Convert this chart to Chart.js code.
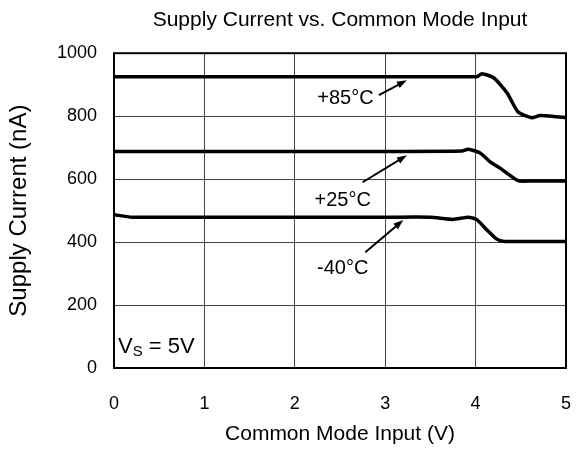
<!DOCTYPE html>
<html>
<head>
<meta charset="utf-8">
<script src="https://cdn.jsdelivr.net/npm/chart.js@4/dist/chart.umd.min.js"></script>
<style>
  html, body { margin: 0; padding: 0; background: #fff; }
  #wrap { width: 583px; height: 450px; }
</style>
</head>
<body>
<div id="wrap"><canvas id="myChart" width="583" height="450"></canvas></div>
<script>
// supply current curves

const xTicks = [0, 1, 2, 3, 4, 5]
const yTicks = [0, 200, 400, 600, 800, 1000]

const x85 = [0, 1, 2, 3, 3.9, 4.02, 4.07, 4.2, 4.35, 4.47, 4.62, 4.71, 4.85, 5]
const y85 = [925, 925, 925, 925, 925, 926, 935, 922, 873, 813, 795, 802, 800, 795]

const x25 = [0, 1, 2, 3, 3.85, 3.92, 4.05, 4.16, 4.27, 4.47, 4.6, 5]
const y25 = [688, 688, 688, 688, 689, 695, 683, 655, 635, 595, 594, 594]

const x40 = [0, 0.2, 1, 2, 3, 3.5, 3.75, 3.92, 4.01, 4.12, 4.23, 4.3, 4.6, 5]
const y40 = [487, 479, 479, 479, 479, 479, 472, 479, 472, 440, 410, 403, 402, 402]

// temperature labels + arrows (label point, arrow tail, arrow head) in data units
const tempLabels = ['+85°C', '+25°C', '-40°C']
const labelX = [2.56, 2.53, 2.53]
const labelY = [857, 533, 317]
const tailX = [2.93, 2.75, 2.78]
const tailY = [867, 590, 368]
const headX = [3.24, 3.24, 3.2]
const headY = [914, 676, 470]

const FONT = "'Liberation Sans', Arial, sans-serif"

function pts(xs, ys) {
    return xs.map((x, i) => ({x: x, y: ys[i]}))
}

function curve(label, xs, ys) {
    return {
        label: label,
        data: pts(xs, ys),
        borderColor: '#000',
        borderWidth: 3.5,
        pointRadius: 0,
        tension: 0.2,
        fill: false,
    }
}

// frame + arrows + labels
const extras = {
    id: 'extras',
    afterDatasetsDraw(chart) {
        const ctx = chart.ctx
        const a = chart.chartArea
        const xs = chart.scales.x
        const ys = chart.scales.y
        ctx.save()
        ctx.strokeStyle = '#000'
        ctx.lineWidth = 2
        ctx.strokeRect(a.left, a.top, a.right - a.left, a.bottom - a.top)

        ctx.fillStyle = '#000'
        ctx.font = '20px ' + FONT
        ctx.textAlign = 'center'
        ctx.textBaseline = 'middle'
        for (let i = 0; i < tempLabels.length; i++) {
            ctx.fillText(tempLabels[i], xs.getPixelForValue(labelX[i]), ys.getPixelForValue(labelY[i]))
            let x1 = xs.getPixelForValue(tailX[i]), y1 = ys.getPixelForValue(tailY[i])
            let x2 = xs.getPixelForValue(headX[i]), y2 = ys.getPixelForValue(headY[i])
            let ang = Math.atan2(y2 - y1, x2 - x1)
            ctx.lineWidth = 2
            ctx.beginPath()
            ctx.moveTo(x1, y1)
            ctx.lineTo(x2 - 6 * Math.cos(ang), y2 - 6 * Math.sin(ang))
            ctx.stroke()
            ctx.beginPath()
            ctx.moveTo(x2, y2)
            ctx.lineTo(x2 - 10 * Math.cos(ang) + 3.5 * Math.sin(ang), y2 - 10 * Math.sin(ang) - 3.5 * Math.cos(ang))
            ctx.lineTo(x2 - 10 * Math.cos(ang) - 3.5 * Math.sin(ang), y2 - 10 * Math.sin(ang) + 3.5 * Math.cos(ang))
            ctx.closePath()
            ctx.fill()
        }

        // V_S = 5V
        let vx = xs.getPixelForValue(0.045), vy = ys.getPixelForValue(67)
        ctx.textAlign = 'left'
        ctx.font = '22px ' + FONT
        ctx.fillText('V', vx, vy)
        let w = ctx.measureText('V').width
        ctx.font = '15px ' + FONT
        ctx.fillText('S', vx + w, vy + 5)
        let w2 = ctx.measureText('S').width
        ctx.font = '22px ' + FONT
        ctx.fillText(' = 5V', vx + w + w2, vy)
        ctx.restore()
    }
}

const ctx = document.getElementById('myChart').getContext('2d')

const config = {
    type: 'line',
    data: {
        datasets: [
            curve('+85°C', x85, y85),
            curve('+25°C', x25, y25),
            curve('-40°C', x40, y40),
        ]
    },
    options: {
        responsive: false,
        animation: false,
        layout: { padding: { left: 0, right: 17, top: 0, bottom: 0 } },
        plugins: {
            legend: { display: false },
            tooltip: { enabled: false },
            title: {
                display: true,
                fullSize: false,
                text: 'Supply Current vs. Common Mode Input',
                color: '#000',
                font: { family: FONT, size: 21, weight: 'normal' },
                padding: { top: 8, bottom: 20 },
            },
        },
        scales: {
            x: {
                type: 'linear',
                min: 0,
                max: 5,
                afterBuildTicks: (s) => { s.ticks = xTicks.map(v => ({value: v})) },
                afterFit: (s) => { s.height = 82; s.paddingLeft = 0; s.paddingRight = 0 },
                grid: { color: '#444', lineWidth: 1, drawTicks: false },
                border: { display: false },
                ticks: { color: '#000', padding: 25, font: { family: FONT, size: 18 } },
                title: {
                    display: true,
                    text: 'Common Mode Input (V)',
                    color: '#000',
                    font: { family: FONT, size: 21 },
                    padding: { top: 0, bottom: 3 },
                },
            },
            y: {
                min: 0,
                max: 1000,
                afterBuildTicks: (s) => { s.ticks = yTicks.map(v => ({value: v})) },
                afterFit: (s) => { s.width = 114; s.paddingTop = 0; s.paddingBottom = 0 },
                grid: { color: '#444', lineWidth: 1, drawTicks: false },
                border: { display: false },
                ticks: {
                    color: '#000',
                    padding: 17,
                    font: { family: FONT, size: 18 },
                    callback: (v) => String(v),
                },
                title: {
                    display: true,
                    text: 'Supply Current (nA)',
                    color: '#000',
                    font: { family: FONT, size: 24 },
                    padding: { top: 5, bottom: 0 },
                },
            },
        },
    },
    plugins: [extras],
}

const myChart = new Chart(ctx, config)
</script>
</body>
</html>
